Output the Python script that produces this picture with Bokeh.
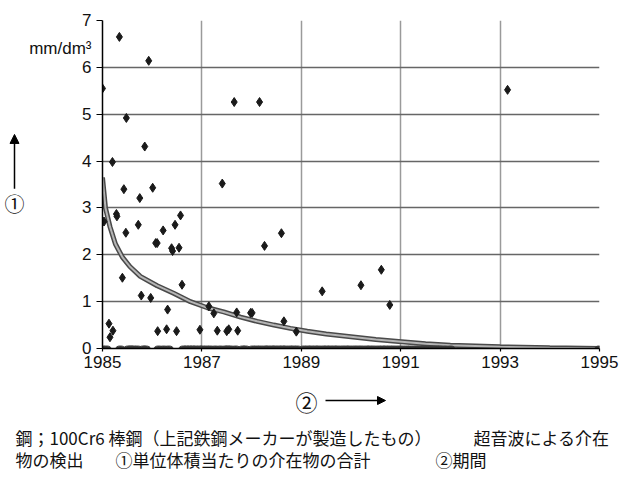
from bokeh.plotting import figure
from bokeh.layouts import column, row
from bokeh.models import Arrow, NormalHead, FixedTicker, ColumnDataSource, Range1d
from bokeh.core.properties import value
from bokeh.embed import file_html
from bokeh.resources import INLINE

# ---------------- data ----------------
pts_year = [1985.00, 1985.34, 1985.20, 1985.48, 1985.43, 1985.75, 1985.93, 1985.85, 1986.01,
            1987.41, 1985.28, 1985.29, 1985.03, 1985.47, 1985.72, 1986.07, 1986.10, 1986.22,
            1986.46, 1986.57, 1986.39, 1986.41, 1986.54, 1988.26, 1988.60, 1985.40, 1985.78,
            1985.97, 1986.60, 1986.31, 1985.13, 1985.15, 1985.21, 1986.11, 1986.29, 1986.49,
            1986.96, 1987.14, 1987.24, 1987.31, 1987.50, 1987.54, 1987.70, 1987.72, 1987.98,
            1988.01, 1988.65, 1988.90, 1987.65, 1988.16, 1989.42, 1990.20, 1990.61, 1990.78,
            1993.15]
pts_value = [5.55, 6.65, 3.98, 4.92, 3.40, 3.21, 6.14, 4.31, 3.43,
             3.52, 2.87, 2.82, 2.71, 2.47, 2.64, 2.25, 2.25, 2.52,
             2.64, 2.84, 2.14, 2.08, 2.15, 2.19, 2.46, 1.51, 1.13,
             1.08, 1.36, 0.83, 0.53, 0.24, 0.38, 0.37, 0.41, 0.37,
             0.40, 0.90, 0.75, 0.38, 0.37, 0.41, 0.77, 0.38, 0.76,
             0.76, 0.58, 0.36, 5.26, 5.26, 1.22, 1.35, 1.68, 0.93,
             5.52]

zero_year = [1985.0, 1985.08, 1985.36, 1985.52, 1985.57, 1985.62, 1985.7, 1985.82, 1985.87,
             1986.13, 1986.23, 1986.33, 1986.63, 1986.69, 1986.75, 1986.81, 1986.87, 1986.95,
             1987.01, 1987.09, 1987.17, 1987.27, 1987.37, 1987.47, 1987.52, 1987.58, 1987.68,
             1987.82, 1987.88, 1988.02, 1988.1, 1988.18, 1988.27, 1988.33, 1988.41, 1988.47,
             1988.55, 1988.62, 1988.68, 1988.77, 1988.84, 1988.92, 1989.05, 1989.13, 1989.2,
             1989.28, 1989.35, 1989.44, 1989.51, 1989.58, 1989.66, 1989.73, 1989.82, 1989.9,
             1989.97, 1990.06, 1990.14, 1990.22, 1990.31, 1990.38, 1990.46, 1990.55, 1990.63,
             1990.7, 1990.78, 1990.86, 1990.95, 1991.03, 1991.12, 1991.2, 1991.29, 1991.37,
             1991.46, 1991.55, 1991.63, 1991.72, 1991.8, 1991.9, 1992.0, 1995.0]
zero_value = [0.0] * len(zero_year)

curve_year = [1985.0, 1985.06, 1985.15, 1985.26, 1985.4, 1985.55, 1985.76, 1986.1, 1986.43,
              1986.77, 1987.11, 1987.44, 1987.78, 1988.11, 1988.45, 1988.78, 1989.12, 1989.5,
              1990.09, 1990.5, 1990.96, 1991.5, 1992.0, 1993.0, 1994.0, 1995.0]
curve_value = [3.65, 3.0, 2.6, 2.23, 1.95, 1.75, 1.54, 1.34, 1.18,
               1.0, 0.87, 0.78, 0.67, 0.58, 0.5, 0.43, 0.37, 0.31,
               0.24, 0.19, 0.15, 0.10, 0.07, 0.035, 0.015, 0.0]

x_ticks = [1985, 1987, 1989, 1991, 1993, 1995]
x_tick_labels = ["1985", "1987", "1989", "1991", "1993", "1995"]
y_ticks = [0, 1, 2, 3, 4, 5, 6, 7]
y_unit = "mm/dm³"
y_unit_at = 6.4
axis_mark_y = "①"
axis_mark_x = "②"
caption_texts = ["鋼；100Cr6 棒鋼（上記鉄鋼メーカーが製造したもの）", "超音波による介在",
                 "物の検出", "①単位体積当たりの介在物の合計", "②期間"]

# ---------------- layout (pixels) ----------------
W, H = 631, 477
LEFT_W = 26            # strip left of the main chart
MAIN_H = 380           # height of the chart row
FL, FR, FT, FB = 102, 599, 20, 348   # plot frame in page pixels
NUM_FONT = "Liberation Sans"
CJK_FONT = "Noto Sans CJK JP"
INK = "#111111"

# ---------------- main chart ----------------
p = figure(width=W - LEFT_W, height=MAIN_H, x_range=(1985, 1995), y_range=(0, 7),
           output_backend="svg", toolbar_location=None,
           min_border_left=FL - LEFT_W, min_border_right=W - FR,
           min_border_top=FT, min_border_bottom=MAIN_H - FB)
p.outline_line_color = None
p.background_fill_color = "white"
p.border_fill_color = "white"

p.xaxis.ticker = FixedTicker(ticks=x_ticks)
p.xaxis.major_label_overrides = {t: l for t, l in zip(x_ticks, x_tick_labels)}
p.yaxis.ticker = FixedTicker(ticks=y_ticks + [y_unit_at], minor_ticks=y_ticks)
p.yaxis.major_label_overrides = {y_unit_at: y_unit}
for ax in (p.xaxis, p.yaxis):
    ax.axis_line_color = "black"
    ax.axis_line_width = 1.5
    ax.major_label_text_font = NUM_FONT
    ax.major_label_text_font_size = "17px"
    ax.major_label_text_color = INK
# y: visible tick marks come from the minor ticks (integers only)
p.yaxis.major_tick_line_color = None
p.yaxis.major_tick_in = 0
p.yaxis.major_tick_out = 0
p.yaxis.major_label_standoff = 5
p.yaxis.minor_tick_line_color = "black"
p.yaxis.minor_tick_line_width = 1.2
p.yaxis.minor_tick_in = 0
p.yaxis.minor_tick_out = 6
p.xaxis.major_tick_line_color = "black"
p.xaxis.major_tick_line_width = 1.2
p.xaxis.major_tick_in = 0
p.xaxis.major_tick_out = 3
p.xaxis.minor_tick_line_color = None
p.xaxis.major_label_standoff = 4

p.xgrid.ticker = FixedTicker(ticks=x_ticks)
p.ygrid.ticker = FixedTicker(ticks=y_ticks)
p.xgrid.grid_line_color = "#9a9a9a"
p.xgrid.grid_line_width = 1.5
p.ygrid.grid_line_color = "#666666"
p.ygrid.grid_line_width = 1.5

curve_src = ColumnDataSource(dict(x=curve_year, y=curve_value))
p.line("x", "y", source=curve_src, line_color="#4a4a4a", line_width=5)
p.line("x", "y", source=curve_src, line_color="#b5b5b5", line_width=2)

# points on the zero line (flattened blobs that merge into a dark band)
zero_src = ColumnDataSource(dict(x=zero_year, y=zero_value))
p.ellipse("x", "y", source=zero_src, width=9, height=5,
          width_units="screen", height_units="screen",
          fill_color="#3a3a3a", line_color="#3a3a3a")

pts_src = ColumnDataSource(dict(x=pts_year, y=pts_value))
p.scatter("x", "y", source=pts_src, marker="diamond", size=9,
          fill_color="#1a1a1a", line_color="#1a1a1a")

# ---------------- helper: blank strip whose data space is its pixel space ----------------
def blank(w, h):
    f = figure(width=w, height=h, x_range=Range1d(0, w), y_range=Range1d(h, 0),
               output_backend="svg", toolbar_location=None,
               x_axis_location=None, y_axis_location=None,
               min_border_left=0, min_border_right=0, min_border_top=0, min_border_bottom=0)
    f.grid.visible = False
    f.outline_line_color = None
    f.background_fill_color = "white"
    f.border_fill_color = "white"
    return f

# ---------------- left strip: ① with upward arrow ----------------
MX = 14
lf = blank(LEFT_W, MAIN_H)
lf.add_layout(Arrow(end=NormalHead(size=9, fill_color="black", line_color="black"),
                    x_start=MX, y_start=195, x_end=MX, y_end=132,
                    line_width=1.5, line_color="black"))
lf.text(x=[MX], y=[212], text=[axis_mark_y], text_font=value(CJK_FONT),
        text_font_size=value("20px"), text_align="center", text_baseline="middle",
        text_color=INK)

# ---------------- bottom strip: ② arrow and caption ----------------
BH = H - MAIN_H
bf = blank(W, BH)
bf.add_layout(Arrow(end=NormalHead(size=8, fill_color="black", line_color="black"),
                    x_start=325, y_start=20, x_end=385, y_end=20,
                    line_width=1.5, line_color="black"))
bf.text(x=[306], y=[20], text=[axis_mark_x], text_font=value(CJK_FONT),
        text_font_size=value("22px"), text_align="center", text_baseline="middle",
        text_color=INK)
cap_x = [15, 473, 15, 115, 435]
cap_y = [57, 57, 79, 79, 79]
bf.text(x=cap_x, y=cap_y, text=caption_texts, text_font=value(CJK_FONT),
        text_font_size=value("17px"), text_align="left", text_baseline="middle",
        text_color=INK)

layout = column(row(lf, p, spacing=0), bf, spacing=0)
open("out.html", "w").write(file_html(layout, INLINE))
